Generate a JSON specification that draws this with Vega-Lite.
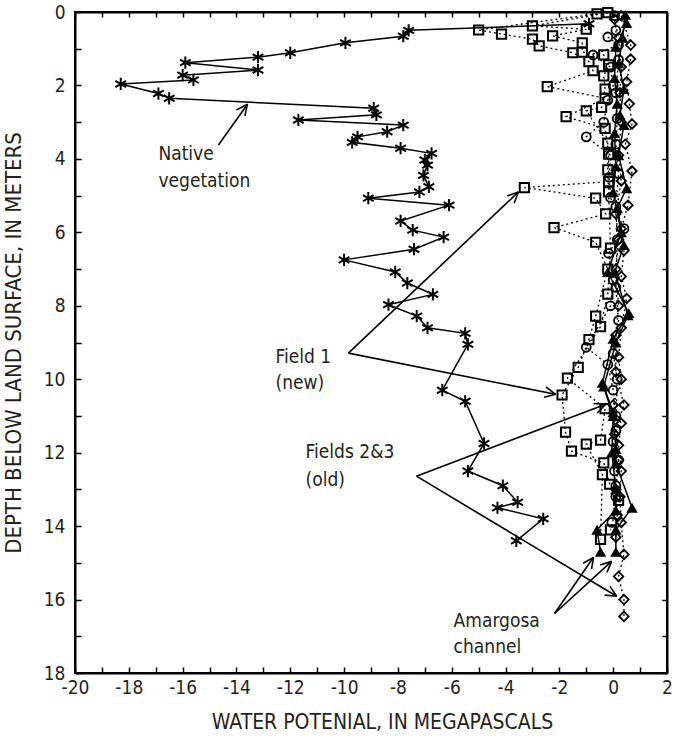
{
  "$schema": "https://vega.github.io/schema/vega-lite/v6.json",
  "width": 592,
  "height": 661,
  "autosize": {"type": "none"},
  "padding": {"left": 75, "top": 12, "right": 6, "bottom": 67},
  "background": "white",
  "config": {
    "font": "Liberation Sans Narrow, DejaVu Sans Condensed, sans-serif",
    "view": {"stroke": "black", "strokeWidth": 2},
    "axis": {
      "grid": false, "domainColor": "black", "domainWidth": 2, "tickColor": "black", "tickWidth": 1.5,
      "labelColor": "#231f20", "titleColor": "#231f20", "labelFontSize": 19, "titleFontSize": 21,
      "labelFlush": false, "labelOverlap": false,
      "titleFontWeight": "normal", "labelFont": "Liberation Sans Narrow, DejaVu Sans Condensed, sans-serif",
      "titleFont": "Liberation Sans Narrow, DejaVu Sans Condensed, sans-serif"
    }
  },
  "datasets": {
    "profiles": [
      {"series":"native","profile":"N","wp":-0.9,"depth":0.32},
      {"series":"native","profile":"N","wp":-7.6,"depth":0.5},
      {"series":"native","profile":"N","wp":-7.8,"depth":0.66},
      {"series":"native","profile":"N","wp":-9.95,"depth":0.84},
      {"series":"native","profile":"N","wp":-12.0,"depth":1.11},
      {"series":"native","profile":"N","wp":-13.2,"depth":1.23},
      {"series":"native","profile":"N","wp":-15.9,"depth":1.38},
      {"series":"native","profile":"N","wp":-13.2,"depth":1.58},
      {"series":"native","profile":"N","wp":-16.0,"depth":1.72},
      {"series":"native","profile":"N","wp":-15.6,"depth":1.85},
      {"series":"native","profile":"N","wp":-18.3,"depth":1.96},
      {"series":"native","profile":"N","wp":-16.9,"depth":2.22},
      {"series":"native","profile":"N","wp":-16.5,"depth":2.35},
      {"series":"native","profile":"N","wp":-8.9,"depth":2.62},
      {"series":"native","profile":"N","wp":-8.8,"depth":2.8},
      {"series":"native","profile":"N","wp":-11.7,"depth":2.94},
      {"series":"native","profile":"N","wp":-7.8,"depth":3.08},
      {"series":"native","profile":"N","wp":-8.4,"depth":3.26},
      {"series":"native","profile":"N","wp":-9.5,"depth":3.4},
      {"series":"native","profile":"N","wp":-9.7,"depth":3.55},
      {"series":"native","profile":"N","wp":-7.9,"depth":3.71},
      {"series":"native","profile":"N","wp":-6.75,"depth":3.85},
      {"series":"native","profile":"N","wp":-7.0,"depth":4.03},
      {"series":"native","profile":"N","wp":-6.9,"depth":4.17},
      {"series":"native","profile":"N","wp":-7.05,"depth":4.45},
      {"series":"native","profile":"N","wp":-6.85,"depth":4.76},
      {"series":"native","profile":"N","wp":-7.2,"depth":4.9},
      {"series":"native","profile":"N","wp":-9.1,"depth":5.07},
      {"series":"native","profile":"N","wp":-6.1,"depth":5.26},
      {"series":"native","profile":"N","wp":-7.9,"depth":5.69},
      {"series":"native","profile":"N","wp":-7.45,"depth":5.94},
      {"series":"native","profile":"N","wp":-6.3,"depth":6.13},
      {"series":"native","profile":"N","wp":-7.4,"depth":6.46},
      {"series":"native","profile":"N","wp":-10.0,"depth":6.75},
      {"series":"native","profile":"N","wp":-8.1,"depth":7.08},
      {"series":"native","profile":"N","wp":-7.65,"depth":7.38},
      {"series":"native","profile":"N","wp":-6.7,"depth":7.69},
      {"series":"native","profile":"N","wp":-8.35,"depth":7.97},
      {"series":"native","profile":"N","wp":-7.3,"depth":8.28},
      {"series":"native","profile":"N","wp":-6.9,"depth":8.6},
      {"series":"native","profile":"N","wp":-5.5,"depth":8.75},
      {"series":"native","profile":"N","wp":-5.4,"depth":9.05},
      {"series":"native","profile":"N","wp":-6.35,"depth":10.3},
      {"series":"native","profile":"N","wp":-5.5,"depth":10.6},
      {"series":"native","profile":"N","wp":-4.8,"depth":11.75},
      {"series":"native","profile":"N","wp":-5.4,"depth":12.5},
      {"series":"native","profile":"N","wp":-4.1,"depth":12.9},
      {"series":"native","profile":"N","wp":-3.55,"depth":13.35},
      {"series":"native","profile":"N","wp":-4.3,"depth":13.5},
      {"series":"native","profile":"N","wp":-2.6,"depth":13.8},
      {"series":"native","profile":"N","wp":-3.6,"depth":14.4},

      {"series":"field1","profile":"S1","wp":-0.6,"depth":0.05},
      {"series":"field1","profile":"S1","wp":-5.0,"depth":0.49},
      {"series":"field1","profile":"S1","wp":-4.15,"depth":0.6},
      {"series":"field1","profile":"S1","wp":-3.0,"depth":0.74},
      {"series":"field1","profile":"S1","wp":-2.75,"depth":0.92},
      {"series":"field1","profile":"S1","wp":-1.5,"depth":1.11},
      {"series":"field1","profile":"S1","wp":-0.9,"depth":1.35},
      {"series":"field1","profile":"S1","wp":-0.75,"depth":1.6},
      {"series":"field1","profile":"S1","wp":-2.45,"depth":2.03},
      {"series":"field1","profile":"S1","wp":-0.3,"depth":2.35},
      {"series":"field1","profile":"S1","wp":-1.75,"depth":2.85},
      {"series":"field1","profile":"S1","wp":-0.3,"depth":3.17},
      {"series":"field1","profile":"S1","wp":-0.17,"depth":3.87},
      {"series":"field1","profile":"S1","wp":-0.17,"depth":4.62},
      {"series":"field1","profile":"S1","wp":-3.3,"depth":4.78},
      {"series":"field1","profile":"S1","wp":-0.65,"depth":5.07},
      {"series":"field1","profile":"S1","wp":-0.28,"depth":5.5},
      {"series":"field1","profile":"S1","wp":-2.2,"depth":5.87},
      {"series":"field1","profile":"S1","wp":-0.65,"depth":6.27},
      {"series":"field1","profile":"S1","wp":-0.2,"depth":7.0},
      {"series":"field1","profile":"S1","wp":-0.65,"depth":8.28},
      {"series":"field1","profile":"S1","wp":-0.9,"depth":8.92},
      {"series":"field1","profile":"S1","wp":-1.3,"depth":9.68},
      {"series":"field1","profile":"S1","wp":-1.9,"depth":10.43},
      {"series":"field1","profile":"S1","wp":-1.77,"depth":11.44},
      {"series":"field1","profile":"S1","wp":-1.55,"depth":11.96},
      {"series":"field1","profile":"S1","wp":-0.35,"depth":12.28},
      {"series":"field1","profile":"S1","wp":-0.13,"depth":12.86},
      {"series":"field1","profile":"S1","wp":0.2,"depth":13.3},
      {"series":"field1","profile":"S1","wp":-0.1,"depth":14.1},

      {"series":"field1","profile":"S2","wp":-0.2,"depth":0.02},
      {"series":"field1","profile":"S2","wp":-3.0,"depth":0.38},
      {"series":"field1","profile":"S2","wp":-1.0,"depth":0.47},
      {"series":"field1","profile":"S2","wp":-2.25,"depth":0.65},
      {"series":"field1","profile":"S2","wp":-1.15,"depth":0.84},
      {"series":"field1","profile":"S2","wp":-1.15,"depth":1.09},
      {"series":"field1","profile":"S2","wp":-0.35,"depth":1.17},
      {"series":"field1","profile":"S2","wp":-0.17,"depth":1.44},
      {"series":"field1","profile":"S2","wp":-0.35,"depth":1.74},
      {"series":"field1","profile":"S2","wp":-0.3,"depth":2.1},
      {"series":"field1","profile":"S2","wp":-0.43,"depth":2.6},
      {"series":"field1","profile":"S2","wp":-1.0,"depth":2.69},
      {"series":"field1","profile":"S2","wp":-0.2,"depth":3.57},
      {"series":"field1","profile":"S2","wp":-0.2,"depth":4.3},
      {"series":"field1","profile":"S2","wp":-0.17,"depth":4.9},
      {"series":"field1","profile":"S2","wp":-0.1,"depth":6.43},
      {"series":"field1","profile":"S2","wp":-0.2,"depth":7.68},
      {"series":"field1","profile":"S2","wp":-0.47,"depth":8.57},
      {"series":"field1","profile":"S2","wp":-1.7,"depth":9.97},
      {"series":"field1","profile":"S2","wp":-0.3,"depth":10.8},
      {"series":"field1","profile":"S2","wp":-0.47,"depth":11.66},
      {"series":"field1","profile":"S2","wp":-1.0,"depth":11.77},
      {"series":"field1","profile":"S2","wp":-0.4,"depth":12.6},
      {"series":"field1","profile":"S2","wp":-0.47,"depth":14.36},

      {"series":"circles","profile":"C1","wp":-0.2,"depth":0.68},
      {"series":"circles","profile":"C1","wp":0.2,"depth":0.9},
      {"series":"circles","profile":"C1","wp":-0.75,"depth":1.17},
      {"series":"circles","profile":"C1","wp":-0.1,"depth":1.5},
      {"series":"circles","profile":"C1","wp":0.0,"depth":2.0},
      {"series":"circles","profile":"C1","wp":-0.2,"depth":2.4},
      {"series":"circles","profile":"C1","wp":-0.35,"depth":3.0},
      {"series":"circles","profile":"C1","wp":-1.0,"depth":3.4},
      {"series":"circles","profile":"C1","wp":-0.1,"depth":3.9},
      {"series":"circles","profile":"C1","wp":-0.15,"depth":4.5},
      {"series":"circles","profile":"C1","wp":-0.1,"depth":5.05},
      {"series":"circles","profile":"C1","wp":0.4,"depth":5.9},
      {"series":"circles","profile":"C1","wp":-0.17,"depth":6.57},
      {"series":"circles","profile":"C1","wp":0.0,"depth":7.3},
      {"series":"circles","profile":"C1","wp":-0.1,"depth":8.0},
      {"series":"circles","profile":"C1","wp":-1.0,"depth":9.13},
      {"series":"circles","profile":"C1","wp":-0.2,"depth":9.6},
      {"series":"circles","profile":"C1","wp":0.0,"depth":10.3},
      {"series":"circles","profile":"C1","wp":0.1,"depth":11.0},
      {"series":"circles","profile":"C1","wp":0.0,"depth":11.7},
      {"series":"circles","profile":"C1","wp":0.05,"depth":12.5},
      {"series":"circles","profile":"C1","wp":0.1,"depth":13.2},
      {"series":"circles","profile":"C1","wp":-0.05,"depth":13.9},

      {"series":"circles","profile":"C2","wp":0.05,"depth":0.1},
      {"series":"circles","profile":"C2","wp":0.1,"depth":0.5},
      {"series":"circles","profile":"C2","wp":0.2,"depth":1.3},
      {"series":"circles","profile":"C2","wp":0.1,"depth":2.2},
      {"series":"circles","profile":"C2","wp":0.15,"depth":2.9},
      {"series":"circles","profile":"C2","wp":0.1,"depth":3.6},
      {"series":"circles","profile":"C2","wp":0.2,"depth":4.4},
      {"series":"circles","profile":"C2","wp":0.1,"depth":5.3},
      {"series":"circles","profile":"C2","wp":0.15,"depth":6.2},
      {"series":"circles","profile":"C2","wp":0.1,"depth":7.5},
      {"series":"circles","profile":"C2","wp":0.2,"depth":8.4},
      {"series":"circles","profile":"C2","wp":0.0,"depth":9.3},
      {"series":"circles","profile":"C2","wp":0.15,"depth":10.0},
      {"series":"circles","profile":"C2","wp":0.1,"depth":11.4},
      {"series":"circles","profile":"C2","wp":0.2,"depth":12.2},
      {"series":"circles","profile":"C2","wp":0.1,"depth":12.9},

      {"series":"fields23","profile":"D1","wp":0.3,"depth":0.1},
      {"series":"fields23","profile":"D1","wp":0.65,"depth":0.9},
      {"series":"fields23","profile":"D1","wp":0.65,"depth":1.28},
      {"series":"fields23","profile":"D1","wp":0.5,"depth":1.9},
      {"series":"fields23","profile":"D1","wp":0.6,"depth":2.5},
      {"series":"fields23","profile":"D1","wp":0.7,"depth":3.05},
      {"series":"fields23","profile":"D1","wp":0.45,"depth":3.6},
      {"series":"fields23","profile":"D1","wp":0.7,"depth":4.33},
      {"series":"fields23","profile":"D1","wp":0.55,"depth":5.26},
      {"series":"fields23","profile":"D1","wp":0.3,"depth":5.9},
      {"series":"fields23","profile":"D1","wp":0.4,"depth":6.5},
      {"series":"fields23","profile":"D1","wp":0.3,"depth":7.2},
      {"series":"fields23","profile":"D1","wp":0.5,"depth":7.8},
      {"series":"fields23","profile":"D1","wp":0.3,"depth":8.6},
      {"series":"fields23","profile":"D1","wp":0.2,"depth":9.4},
      {"series":"fields23","profile":"D1","wp":0.3,"depth":10.0},
      {"series":"fields23","profile":"D1","wp":0.0,"depth":10.7},
      {"series":"fields23","profile":"D1","wp":0.3,"depth":11.2},
      {"series":"fields23","profile":"D1","wp":0.2,"depth":11.8},
      {"series":"fields23","profile":"D1","wp":0.3,"depth":12.5},
      {"series":"fields23","profile":"D1","wp":0.25,"depth":13.2},
      {"series":"fields23","profile":"D1","wp":0.3,"depth":13.9},
      {"series":"fields23","profile":"D1","wp":0.4,"depth":14.77},
      {"series":"fields23","profile":"D1","wp":0.2,"depth":15.37},
      {"series":"fields23","profile":"D1","wp":0.4,"depth":16.0},
      {"series":"fields23","profile":"D1","wp":0.4,"depth":16.46},

      {"series":"fields23","profile":"D2","wp":0.05,"depth":0.2},
      {"series":"fields23","profile":"D2","wp":0.2,"depth":0.7},
      {"series":"fields23","profile":"D2","wp":0.3,"depth":1.5},
      {"series":"fields23","profile":"D2","wp":0.25,"depth":2.2},
      {"series":"fields23","profile":"D2","wp":0.3,"depth":3.0},
      {"series":"fields23","profile":"D2","wp":0.2,"depth":3.9},
      {"series":"fields23","profile":"D2","wp":0.3,"depth":4.6},
      {"series":"fields23","profile":"D2","wp":0.1,"depth":5.5},
      {"series":"fields23","profile":"D2","wp":0.2,"depth":6.2},
      {"series":"fields23","profile":"D2","wp":0.1,"depth":7.0},
      {"series":"fields23","profile":"D2","wp":0.2,"depth":8.0},
      {"series":"fields23","profile":"D2","wp":0.1,"depth":8.8},
      {"series":"fields23","profile":"D2","wp":0.1,"depth":9.8},
      {"series":"fields23","profile":"D2","wp":0.4,"depth":10.7},
      {"series":"fields23","profile":"D2","wp":0.05,"depth":11.5},
      {"series":"fields23","profile":"D2","wp":0.2,"depth":12.2},
      {"series":"fields23","profile":"D2","wp":0.1,"depth":13.0},
      {"series":"fields23","profile":"D2","wp":0.15,"depth":13.7},
      {"series":"fields23","profile":"D2","wp":0.1,"depth":14.3},

      {"series":"amargosa","profile":"A1","wp":0.45,"depth":0.08},
      {"series":"amargosa","profile":"A1","wp":0.35,"depth":0.7},
      {"series":"amargosa","profile":"A1","wp":0.2,"depth":1.4},
      {"series":"amargosa","profile":"A1","wp":0.4,"depth":2.1},
      {"series":"amargosa","profile":"A1","wp":0.25,"depth":2.8},
      {"series":"amargosa","profile":"A1","wp":0.4,"depth":3.08},
      {"series":"amargosa","profile":"A1","wp":0.2,"depth":3.9},
      {"series":"amargosa","profile":"A1","wp":0.5,"depth":4.8},
      {"series":"amargosa","profile":"A1","wp":0.15,"depth":5.34},
      {"series":"amargosa","profile":"A1","wp":0.4,"depth":6.35},
      {"series":"amargosa","profile":"A1","wp":0.05,"depth":7.1},
      {"series":"amargosa","profile":"A1","wp":0.55,"depth":8.26},
      {"series":"amargosa","profile":"A1","wp":0.1,"depth":9.0},
      {"series":"amargosa","profile":"A1","wp":-0.35,"depth":10.2},
      {"series":"amargosa","profile":"A1","wp":0.0,"depth":10.9},
      {"series":"amargosa","profile":"A1","wp":0.1,"depth":11.9},
      {"series":"amargosa","profile":"A1","wp":0.1,"depth":12.3},
      {"series":"amargosa","profile":"A1","wp":0.7,"depth":13.5},
      {"series":"amargosa","profile":"A1","wp":0.1,"depth":14.1},
      {"series":"amargosa","profile":"A1","wp":0.1,"depth":14.7},

      {"series":"amargosa","profile":"A2","wp":0.5,"depth":0.3},
      {"series":"amargosa","profile":"A2","wp":0.1,"depth":0.95},
      {"series":"amargosa","profile":"A2","wp":0.05,"depth":1.8},
      {"series":"amargosa","profile":"A2","wp":0.15,"depth":2.5},
      {"series":"amargosa","profile":"A2","wp":0.05,"depth":3.3},
      {"series":"amargosa","profile":"A2","wp":0.1,"depth":4.2},
      {"series":"amargosa","profile":"A2","wp":0.0,"depth":4.9},
      {"series":"amargosa","profile":"A2","wp":0.3,"depth":6.0},
      {"series":"amargosa","profile":"A2","wp":-0.2,"depth":7.08},
      {"series":"amargosa","profile":"A2","wp":0.58,"depth":8.2},
      {"series":"amargosa","profile":"A2","wp":0.0,"depth":8.9},
      {"series":"amargosa","profile":"A2","wp":-0.4,"depth":10.1},
      {"series":"amargosa","profile":"A2","wp":0.0,"depth":11.0},
      {"series":"amargosa","profile":"A2","wp":-0.05,"depth":12.0},
      {"series":"amargosa","profile":"A2","wp":0.1,"depth":13.0},
      {"series":"amargosa","profile":"A2","wp":0.1,"depth":13.57},
      {"series":"amargosa","profile":"A2","wp":-0.6,"depth":14.1},
      {"series":"amargosa","profile":"A2","wp":-0.47,"depth":14.7}
    ],
    "arrows": [
      {"x":-14.67,"y":3.62,"x2":-13.59,"y2":2.51},
      {"x":-14.0,"y":2.67,"x2":-13.59,"y2":2.51},
      {"x":-13.69,"y":2.83,"x2":-13.59,"y2":2.51},
      {"x":-9.84,"y":9.29,"x2":-3.52,"y2":4.9},
      {"x":-3.94,"y":5.01,"x2":-3.52,"y2":4.9},
      {"x":-3.68,"y":5.21,"x2":-3.52,"y2":4.9},
      {"x":-9.84,"y":9.29,"x2":-2.14,"y2":10.41},
      {"x":-2.5,"y":10.21,"x2":-2.14,"y2":10.41},
      {"x":-2.57,"y":10.49,"x2":-2.14,"y2":10.41},
      {"x":-7.31,"y":12.64,"x2":-0.28,"y2":10.68},
      {"x":-0.73,"y":10.66,"x2":-0.28,"y2":10.68},
      {"x":-0.59,"y":10.92,"x2":-0.28,"y2":10.68},
      {"x":-7.31,"y":12.64,"x2":0.13,"y2":15.91},
      {"x":-0.12,"y":15.64,"x2":0.13,"y2":15.91},
      {"x":-0.32,"y":15.88,"x2":0.13,"y2":15.91},
      {"x":-2.18,"y":16.38,"x2":-0.73,"y2":14.85},
      {"x":-1.115,"y":15.01,"x2":-0.73,"y2":14.85},
      {"x":-0.804,"y":15.17,"x2":-0.73,"y2":14.85},
      {"x":-2.18,"y":16.38,"x2":-0.06,"y2":14.96},
      {"x":-0.48,"y":15.06,"x2":-0.06,"y2":14.96},
      {"x":-0.23,"y":15.26,"x2":-0.06,"y2":14.96}
    ],
    "labels": [
      {"label":"Native","x":-16.9,"y":3.87},
      {"label":"vegetation","x":-16.9,"y":4.6},
      {"label":"Field 1","x":-12.55,"y":9.4},
      {"label":"(new)","x":-12.55,"y":10.11},
      {"label":"Fields 2&3","x":-11.43,"y":11.99},
      {"label":"(old)","x":-11.43,"y":12.75},
      {"label":"Amargosa","x":-5.93,"y":16.59},
      {"label":"channel","x":-5.93,"y":17.3}
    ]
  },
  "resolve": {"axis": {"x": "independent", "y": "independent"}},
  "layer": [
    {
      "data": {"name": "profiles"},
      "transform": [{"filter": {"field": "series", "oneOf": ["field1", "circles", "fields23"]}}],
      "mark": {"type": "line", "color": "black", "strokeWidth": 1.3, "strokeDash": [2, 3]},
      "encoding": {
        "x": {"field": "wp", "type": "quantitative",
          "scale": {"domain": [-20, 2], "nice": false, "zero": false},
          "axis": {"orient": "bottom", "values": [-20,-19,-18,-17,-16,-15,-14,-13,-12,-11,-10,-9,-8,-7,-6,-5,-4,-3,-2,-1,0,1,2],
            "labelExpr": "datum.value % 2 === 0 ? '' + datum.value : ''", "tickSize": -6, "labelPadding": 11,
            "title": "WATER POTENIAL, IN MEGAPASCALS", "titlePadding": 14, "titleX": 307}},
        "y": {"field": "depth", "type": "quantitative",
          "scale": {"domain": [0, 18], "nice": false, "zero": false, "reverse": true},
          "axis": {"orient": "left", "values": [0,1,2,3,4,5,6,7,8,9,10,11,12,13,14,15,16,17,18],
            "labelExpr": "datum.value % 2 === 0 ? '' + datum.value : ''", "tickSize": -6, "labelPadding": 16,
            "title": "DEPTH BELOW LAND SURFACE, IN METERS", "titleFontSize": 22, "titlePadding": 18}},
        "detail": {"field": "profile"},
        "order": {"field": "depth", "type": "quantitative"}
      }
    },
    {
      "data": {"name": "profiles"},
      "transform": [{"filter": {"field": "series", "oneOf": ["native", "amargosa"]}}],
      "mark": {"type": "line", "color": "black", "strokeWidth": 1.5},
      "encoding": {
        "x": {"field": "wp", "type": "quantitative",
          "axis": {"orient": "top", "values": [-20,-19,-18,-17,-16,-15,-14,-13,-12,-11,-10,-9,-8,-7,-6,-5,-4,-3,-2,-1,0,1,2],
            "labels": false, "title": null, "tickSize": -5}},
        "y": {"field": "depth", "type": "quantitative",
          "axis": {"orient": "right", "values": [0,1,2,3,4,5,6,7,8,9,10,11,12,13,14,15,16,17,18],
            "labels": false, "title": null, "tickSize": -5}},
        "detail": {"field": "profile"},
        "order": {"field": "depth", "type": "quantitative"}
      }
    },
    {
      "data": {"name": "profiles"},
      "transform": [{"filter": {"field": "series", "equal": "native"}}],
      "mark": {"type": "point", "shape": "M0,-1L0,1M-0.87,-0.5L0.87,0.5M-0.87,0.5L0.87,-0.5", "filled": false, "stroke": "black", "strokeWidth": 2, "size": 150, "opacity": 1},
      "encoding": {
        "x": {"field": "wp", "type": "quantitative", "axis": null},
        "y": {"field": "depth", "type": "quantitative", "axis": null}
      }
    },
    {
      "data": {"name": "profiles"},
      "transform": [{"filter": {"field": "series", "equal": "field1"}}],
      "mark": {"type": "point", "shape": "square", "filled": false, "stroke": "black", "strokeWidth": 2, "size": 85, "opacity": 1},
      "encoding": {
        "x": {"field": "wp", "type": "quantitative", "axis": null},
        "y": {"field": "depth", "type": "quantitative", "axis": null}
      }
    },
    {
      "data": {"name": "profiles"},
      "transform": [{"filter": {"field": "series", "equal": "circles"}}],
      "mark": {"type": "point", "shape": "circle", "filled": false, "stroke": "black", "strokeWidth": 1.8, "size": 80, "opacity": 1},
      "encoding": {
        "x": {"field": "wp", "type": "quantitative", "axis": null},
        "y": {"field": "depth", "type": "quantitative", "axis": null}
      }
    },
    {
      "data": {"name": "profiles"},
      "transform": [{"filter": {"field": "series", "equal": "fields23"}}],
      "mark": {"type": "point", "shape": "diamond", "filled": false, "stroke": "black", "strokeWidth": 1.8, "size": 90, "opacity": 1},
      "encoding": {
        "x": {"field": "wp", "type": "quantitative", "axis": null},
        "y": {"field": "depth", "type": "quantitative", "axis": null}
      }
    },
    {
      "data": {"name": "profiles"},
      "transform": [{"filter": {"field": "series", "equal": "amargosa"}}],
      "mark": {"type": "point", "shape": "triangle-up", "filled": true, "color": "black", "size": 130, "opacity": 1},
      "encoding": {
        "x": {"field": "wp", "type": "quantitative", "axis": null},
        "y": {"field": "depth", "type": "quantitative", "axis": null}
      }
    },
    {
      "data": {"name": "arrows"},
      "mark": {"type": "rule", "color": "black", "strokeWidth": 1.6},
      "encoding": {
        "x": {"field": "x", "type": "quantitative", "axis": null},
        "y": {"field": "y", "type": "quantitative", "axis": null},
        "x2": {"field": "x2"},
        "y2": {"field": "y2"}
      }
    },
    {
      "data": {"name": "labels"},
      "mark": {"type": "text", "align": "left", "baseline": "middle", "fontSize": 19, "color": "#231f20", "font": "Liberation Sans Narrow, DejaVu Sans Condensed, sans-serif"},
      "encoding": {
        "x": {"field": "x", "type": "quantitative", "axis": null},
        "y": {"field": "y", "type": "quantitative", "axis": null},
        "text": {"field": "label"}
      }
    }
  ]
}
